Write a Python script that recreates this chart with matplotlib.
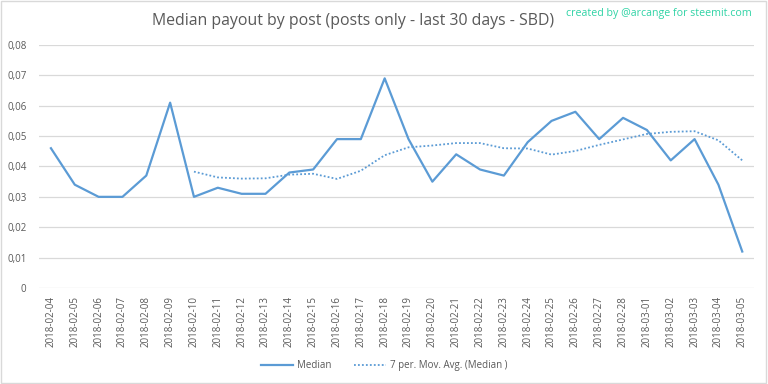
import numpy as np
import matplotlib.pyplot as plt
from matplotlib.patches import Rectangle

dates = [
    "2018-02-04", "2018-02-05", "2018-02-06", "2018-02-07", "2018-02-08",
    "2018-02-09", "2018-02-10", "2018-02-11", "2018-02-12", "2018-02-13",
    "2018-02-14", "2018-02-15", "2018-02-16", "2018-02-17", "2018-02-18",
    "2018-02-19", "2018-02-20", "2018-02-21", "2018-02-22", "2018-02-23",
    "2018-02-24", "2018-02-25", "2018-02-26", "2018-02-27", "2018-02-28",
    "2018-03-01", "2018-03-02", "2018-03-03", "2018-03-04", "2018-03-05",
]
median = [
    0.046, 0.034, 0.030, 0.030, 0.037, 0.061, 0.030, 0.033, 0.031, 0.031,
    0.038, 0.039, 0.049, 0.049, 0.069, 0.049, 0.035, 0.044, 0.039, 0.037,
    0.048, 0.055, 0.058, 0.049, 0.056, 0.052, 0.042, 0.049, 0.034, 0.012,
]
# 7 period moving average (starts on 2018-02-10)
mov_avg = [
    0.0383, 0.0364, 0.0360, 0.0361, 0.0373, 0.0376, 0.0359, 0.0386, 0.0437,
    0.0463, 0.0469, 0.0477, 0.0477, 0.0460, 0.0459, 0.0439, 0.0451, 0.0471,
    0.0489, 0.0507, 0.0514, 0.0516, 0.0486, 0.0420,
]
yticks = [0, 0.01, 0.02, 0.03, 0.04, 0.05, 0.06, 0.07, 0.08]
ytick_labels = ["0", "0,01", "0,02", "0,03", "0,04", "0,05", "0,06", "0,07", "0,08"]

BLUE = "#5B9BD5"
GRAY = "#595959"

plt.rcParams["font.family"] = ["Open Sans", "DejaVu Sans"]

fig = plt.figure(figsize=(7.68, 3.84), dpi=100)
ax = fig.add_axes([0.0508, 0.25, 0.9312, 0.633])

x = np.arange(len(dates))
ax.plot(x, median, color=BLUE, lw=1.6, label="Median", solid_joinstyle="round")
x_avg = x[len(dates) - len(mov_avg):]
ax.plot(x_avg, mov_avg, color=BLUE, lw=1.3, ls=(0, (1, 1.2)),
        label="7 per. Mov. Avg. (Median )")

ax.set_xlim(-0.5, len(dates) - 0.5)
ax.set_ylim(0, 0.08)
ax.set_yticks(yticks)
ax.set_yticklabels(ytick_labels)
ax.set_xticks(x)
ax.set_xticklabels(dates, rotation=90)
ax.tick_params(axis="both", length=0, labelsize=7, labelcolor=GRAY)
ax.tick_params(axis="y", pad=9)
ax.tick_params(axis="x", pad=6)
ax.grid(axis="y", color="#D9D9D9", lw=0.9)
ax.set_axisbelow(True)
for s in ax.spines.values():
    s.set_visible(False)

fig.text(0.46, 0.945, "Median payout by post (posts only - last 30 days - SBD)",
         ha="center", va="center", fontsize=11.4, color=GRAY)
fig.text(0.979, 0.965, "created by @arcange for steemit.com",
         ha="right", va="center", fontsize=7.7, color="#2FD3A5")

ax.legend(loc="center", bbox_to_anchor=(0.5, 0.047), bbox_transform=fig.transFigure,
          ncol=2, frameon=False, fontsize=7, labelcolor=GRAY,
          handlelength=3.3, columnspacing=2.3, handletextpad=0.4)

fig.patches.append(Rectangle((0.001, 0.002), 0.997, 0.995, transform=fig.transFigure,
                             fill=False, edgecolor="#D9D9D9", lw=1))

fig.savefig("out.png", dpi=100)
